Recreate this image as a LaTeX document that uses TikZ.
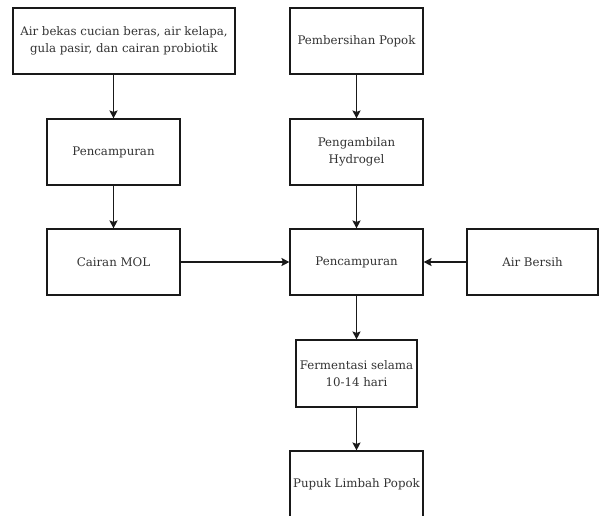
\documentclass[tikz,border=0pt]{standalone}
\usepackage{fontspec}
\setmainfont{DejaVu Serif}
\usetikzlibrary{arrows.meta,positioning}
\begin{document}
\begin{tikzpicture}[x=1pt,y=-1pt,
  txt/.style={font=\fontsize{11.8}{17}\selectfont,text=black!80,align=center},
  box/.style={draw=black!90,line width=1.1pt,inner sep=0pt,txt},
  arr/.style={draw=black!90,line width=1.1pt,-{Stealth[length=8pt,width=8pt,inset=1.5pt]}}]
\useasboundingbox (0,0) rectangle (599,515);
\clip (0,0) rectangle (599,515);
\node[box,minimum width=222,minimum height=66] (a) at (124,41) {Air bekas cucian beras, air kelapa,\\gula pasir, dan cairan probiotik};
\node[box,minimum width=133,minimum height=66] (b) at (113.5,152) {Pencampuran};
\node[box,minimum width=133,minimum height=66] (c) at (113.5,262) {Cairan MOL};
\node[box,minimum width=133,minimum height=66] (d) at (356.5,41) {Pembersihan Popok};
\node[box,minimum width=133,minimum height=66] (e) at (356.5,152) {Pengambilan\\Hydrogel};
\node[box,minimum width=133,minimum height=66] (f) at (356.5,262) {Pencampuran};
\node[box,minimum width=131,minimum height=66] (g) at (532.5,262) {Air Bersih};
\node[box,minimum width=121,minimum height=67] (h) at (356.5,373.5) {Fermentasi selama\\10-14 hari};
\node[box,minimum width=133,minimum height=90] (i) at (356.5,496) {};
\node[txt] (it) at (356.5,484) {Pupuk Limbah Popok};
\draw[arr] (b.north |- a.south) -- (b);
\draw[arr] (b) -- (c);
\draw[arr] (d) -- (e);
\draw[arr] (e) -- (f);
\draw[arr] (c) -- (f);
\draw[arr] (g) -- (f);
\draw[arr] (f) -- (h);
\draw[arr] (h) -- (i);
\end{tikzpicture}
\end{document}
